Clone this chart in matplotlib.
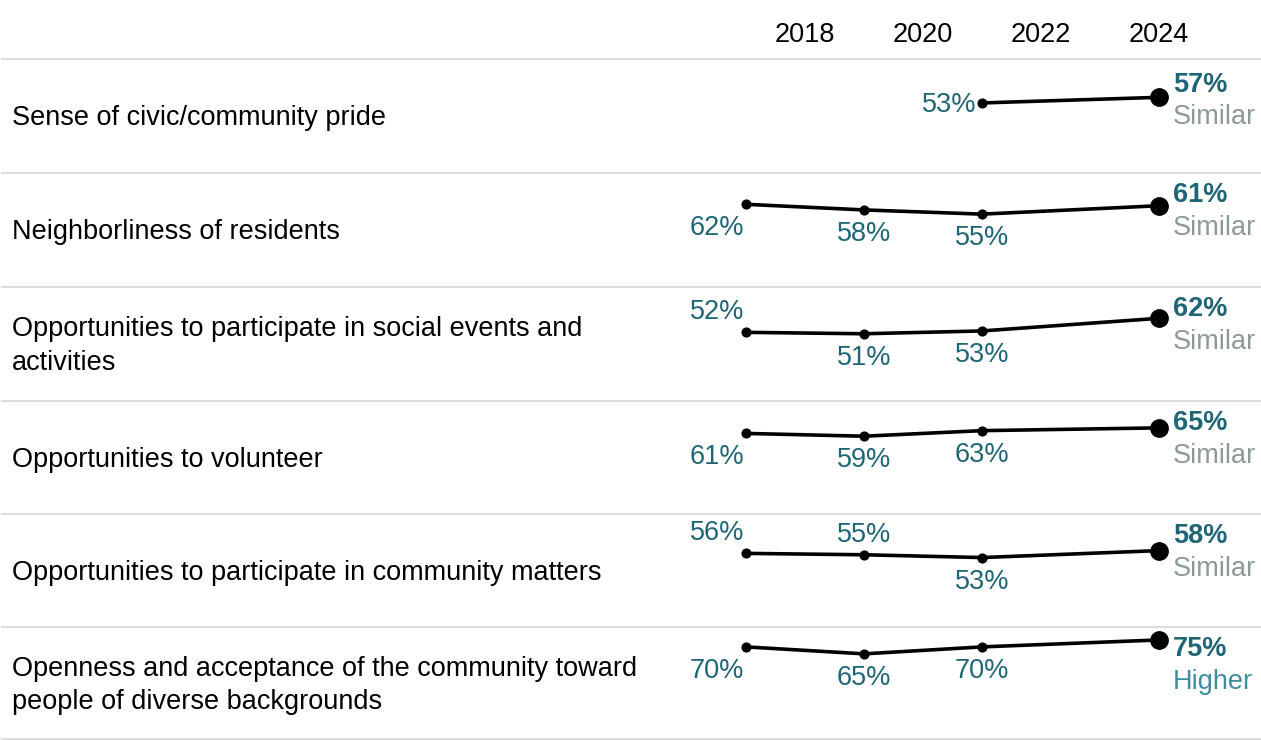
import matplotlib
matplotlib.use("Agg")
import matplotlib.pyplot as plt
from matplotlib.lines import Line2D

plt.rcParams['font.family'] = ['Liberation Sans', 'DejaVu Sans']

categories = [
    "Sense of civic/community pride",
    "Neighborliness of residents",
    "Opportunities to participate in social events and\nactivities",
    "Opportunities to volunteer",
    "Opportunities to participate in community matters",
    "Openness and acceptance of the community toward\npeople of diverse backgrounds",
]
years = [2017, 2019, 2021, 2024]
values = [
    [None, None, 53, 57],
    [62, 58, 55, 61],
    [52, 51, 53, 62],
    [61, 59, 63, 65],
    [56, 55, 53, 58],
    [70, 65, 70, 75],
]
label_pos = [
    [None, None, "left", None],
    ["below", "below", "below", None],
    ["above", "below", "below", None],
    ["below", "below", "below", None],
    ["above", "above", "below", None],
    ["below", "below", "below", None],
]
comparison = ["Similar", "Similar", "Similar", "Similar", "Similar", "Higher"]
tick_years = [2018, 2020, 2022, 2024]

TEAL = "#1e6676"
SIM = "#8b9b90"
HIGH = "#3e8d9e"
FS = 19.5

W, H = 1261, 740
fig = plt.figure(figsize=(W / 100, H / 100), dpi=100)

row_edges = [59, 173, 287, 401, 514, 627, 740]
ax_left_px, ax_right_px = 690, 1261
px_per_year = 59.0
x0 = 2018 + (ax_left_px - 805) / px_per_year
x1 = 2018 + (ax_right_px - 805) / px_per_year

for i, (cat, vals) in enumerate(zip(categories, values)):
    top, bot = row_edges[i], row_edges[i + 1]
    ax = fig.add_axes([ax_left_px / W, 1 - bot / H, (ax_right_px - ax_left_px) / W, (bot - top) / H])
    ax.set_xlim(x0, x1)
    ax.set_ylim(3.1, 84.3)
    ax.axis("off")
    pts = [(y, v) for y, v in zip(years, vals) if v is not None]
    xs = [p[0] for p in pts]
    ys = [p[1] for p in pts]
    ax.plot(xs, ys, color="black", lw=2.6, solid_capstyle="round", zorder=2)
    ax.plot(xs[:-1], ys[:-1], "o", color="black", ms=6.3, zorder=3)
    ax.plot(xs[-1], ys[-1], "o", color="black", ms=12.5, zorder=3)
    for j, (yr, v) in enumerate(zip(years, vals)):
        if v is None or j == len(years) - 1:
            continue
        pos = label_pos[i][j]
        dx = -29 if j == 0 else 0
        if pos == "below":
            off, ha = (dx, -24), "center"
        elif pos == "above":
            off, ha = (dx, 20), "center"
        else:
            off, ha = (-6, -2), "right"
        ax.annotate(f"{v}%", (yr, v), xytext=off, textcoords="offset pixels",
                    ha=ha, va="center", fontsize=FS, color=TEAL)
    # last value and comparison
    fy1 = 1 - (top + (26 if i == 0 else 22)) / H
    fy2 = 1 - (top + (58 if i == 0 else 55)) / H
    fig.text(1173 / W, fy1, f"{vals[-1]}%", ha="left", va="center", fontsize=FS,
             fontweight="bold", color=TEAL)
    fig.text(1173 / W, fy2, comparison[i], ha="left", va="center", fontsize=FS,
             color=HIGH if comparison[i] == "Higher" else SIM)
    # category label
    fig.text(12 / W, 1 - ((top + bot) / 2 + 2) / H, cat, ha="left", va="center",
             fontsize=FS, color="black", linespacing=1.38)
    if i == 0:
        for ty in tick_years:
            fig.text((805 + (ty - 2018) * px_per_year) / W, 1 - 35 / H, str(ty),
                     ha="center", va="center", fontsize=FS, color="black")

for e in row_edges:
    yy = 1 - min(e, 739) / H
    fig.add_artist(Line2D([2 / W, 1], [yy, yy], color="#dcdcdc", lw=1.5))

fig.savefig("out.png", dpi=100)
